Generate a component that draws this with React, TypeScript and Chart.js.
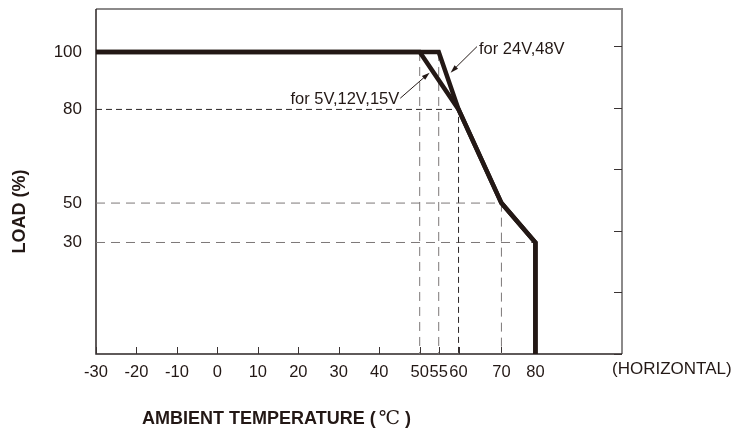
import { useEffect, useRef } from 'react';
import { Chart, registerables, LinearScale } from 'chart.js';

// ---- data ----
const X_TICKS = [-30, -20, -10, 0, 10, 20, 30, 40, 50, 55, 60, 70, 80];
const Y_TICKS = [30, 50, 80, 100];
const RIGHT_TICKS = [0, 20, 40, 60, 80, 100];

const LOW_V_TEMP = [-30, 50, 60, 70, 80, 80];
const LOW_V_LOAD = [100, 100, 80, 50, 30, 0];
const HIGH_V_TEMP = [-30, 55, 60, 70, 80, 80];
const HIGH_V_LOAD = [100, 100, 80, 50, 30, 0];

const LOW_V_LABEL = 'for 5V,12V,15V';
const HIGH_V_LABEL = 'for 24V,48V';
// annotation anchors in data units: [temp, load]
const LOW_V_ARROW_TAIL = [45.2, 83.9];
const LOW_V_ARROW_TIP = [52.6, 92.8];
const HIGH_V_ARROW_TAIL = [64.3, 101.5];
const HIGH_V_ARROW_TIP = [58.0, 92.8];

const X_TITLE = 'AMBIENT TEMPERATURE (';
const X_TITLE_UNIT = '℃';
const X_TITLE_END = ')';
const Y_TITLE = 'LOAD (%)';
const ORIENTATION = '(HORIZONTAL)';

// the original artwork's axes are slightly non-uniform: value -> nominal axis position
const X_WARP_FROM = [-30, 50, 55, 60, 70, 80, 100];
const X_WARP_TO = [-30, 50, 54.7, 59.6, 70.2, 78.6, 100];
const Y_WARP_FROM = [0, 30, 50, 80, 100, 112];
const Y_WARP_TO = [0, 36.2, 49.0, 79.4, 98.05, 112];

function interp(v: number, from: number[], to: number[]) {
  const n = from.length;
  if (v <= from[0]) return to[0] + (v - from[0]);
  if (v >= from[n - 1]) return to[n - 1] + (v - from[n - 1]);
  for (let i = 1; i < n; i++) {
    if (v <= from[i]) {
      const t = (v - from[i - 1]) / (from[i] - from[i - 1]);
      return to[i - 1] + t * (to[i] - to[i - 1]);
    }
  }
  return v;
}

class WarpScale extends (LinearScale as any) {
  static id = 'warp';
  static defaults = (LinearScale as any).defaults;
  maps() {
    return this.axis === 'x' ? [X_WARP_FROM, X_WARP_TO] : [Y_WARP_FROM, Y_WARP_TO];
  }
  getPixelForValue(value: any) {
    if (value === null || value === undefined) return NaN;
    const [f, t] = this.maps();
    return super.getPixelForValue(interp(value, f, t));
  }
  getValueForPixel(pixel: number) {
    const [f, t] = this.maps();
    return interp(super.getValueForPixel(pixel), t, f);
  }
}

Chart.register(...registerables, WarpScale as any);

const INK = '#231815';
const FONT = "'Liberation Sans', Arial, sans-serif";

const pts = (xs: number[], ys: number[]) => xs.map((x, i) => ({ x, y: ys[i] }));

function buildGuides() {
  const knees: { x: number; y: number }[] = [];
  [pts(LOW_V_TEMP, LOW_V_LOAD), pts(HIGH_V_TEMP, HIGH_V_LOAD)].forEach((line) => {
    line.slice(1, -1).forEach((p) => {
      if (!knees.some((k) => k.x === p.x && k.y === p.y)) knees.push(p);
    });
  });
  return knees.map((k) => {
    const dark = k.x === 60;
    const data = k.y < 100
      ? [{ x: X_TICKS[0], y: k.y }, { x: k.x, y: k.y }, { x: k.x, y: 0 }]
      : [{ x: k.x, y: k.y }, { x: k.x, y: 0 }];
    return {
      data,
      borderColor: dark ? '#2a2525' : '#7d7878',
      borderWidth: 1,
      borderDash: dark ? [6, 4] : [9, 6],
      pointRadius: 0,
      fill: false,
      tension: 0,
    };
  });
}

const noPad = (s: any) => {
  s.paddingTop = 0;
  s.paddingBottom = 0;
  s.paddingLeft = 0;
  s.paddingRight = 0;
};

const decor = {
  id: 'decor',
  beforeDatasetsDraw(chart: any) {
    const { ctx, chartArea: a, scales } = chart;
    ctx.save();
    ctx.strokeStyle = '#8c8a8a';
    ctx.lineWidth = 2;
    ctx.beginPath();
    ctx.moveTo(a.left, a.top);
    ctx.lineTo(a.right, a.top);
    ctx.lineTo(a.right, a.bottom);
    ctx.stroke();
    ctx.strokeStyle = '#2b2424';
    ctx.lineWidth = 1.5;
    ctx.beginPath();
    ctx.moveTo(a.left, a.top);
    ctx.lineTo(a.left, a.bottom);
    ctx.lineTo(a.right, a.bottom);
    ctx.stroke();
    // inward tick marks
    ctx.lineWidth = 1;
    ctx.strokeStyle = '#3a3333';
    ctx.beginPath();
    X_TICKS.forEach((v) => {
      const px = Math.round(scales.x.getPixelForValue(v)) + 0.5;
      ctx.moveTo(px, a.bottom);
      ctx.lineTo(px, a.bottom - 7);
    });
    RIGHT_TICKS.forEach((v) => {
      const py = Math.round(scales.y2.getPixelForValue(v)) + 0.5;
      ctx.moveTo(a.right, py);
      ctx.lineTo(a.right - 8, py);
    });
    ctx.stroke();
    ctx.restore();
  },
  afterDatasetsDraw(chart: any) {
    const { ctx, scales } = chart;
    const P = (p: number[]) => [scales.x.getPixelForValue(p[0]), scales.y.getPixelForValue(p[1])];
    const arrow = (tail: number[], tip: number[]) => {
      const [x0, y0] = P(tail);
      const [x1, y1] = P(tip);
      const ang = Math.atan2(y1 - y0, x1 - x0);
      ctx.save();
      ctx.strokeStyle = INK;
      ctx.fillStyle = INK;
      ctx.lineWidth = 1;
      ctx.beginPath();
      ctx.moveTo(x0, y0);
      ctx.lineTo(x1 - 6 * Math.cos(ang), y1 - 6 * Math.sin(ang));
      ctx.stroke();
      ctx.beginPath();
      ctx.moveTo(x1, y1);
      ctx.lineTo(x1 - 8 * Math.cos(ang) + 2.5 * Math.sin(ang), y1 - 8 * Math.sin(ang) - 2.5 * Math.cos(ang));
      ctx.lineTo(x1 - 8 * Math.cos(ang) - 2.5 * Math.sin(ang), y1 - 8 * Math.sin(ang) + 2.5 * Math.cos(ang));
      ctx.closePath();
      ctx.fill();
      ctx.restore();
      return [x0, y0];
    };
    const [hx, hy] = arrow(HIGH_V_ARROW_TAIL, HIGH_V_ARROW_TIP);
    const [lx, ly] = arrow(LOW_V_ARROW_TAIL, LOW_V_ARROW_TIP);
    ctx.save();
    ctx.fillStyle = INK;
    ctx.font = `16.5px ${FONT}`;
    ctx.textBaseline = 'middle';
    ctx.textAlign = 'left';
    ctx.fillText(HIGH_V_LABEL, hx + 2, hy + 3);
    ctx.textAlign = 'right';
    ctx.fillText(LOW_V_LABEL, lx - 1, ly + 1);
    ctx.restore();
  },
  afterDraw(chart: any) {
    const { ctx, chartArea: a } = chart;
    ctx.save();
    ctx.fillStyle = INK;
    // y title
    ctx.save();
    ctx.translate(a.left - 76, (a.top + a.bottom) / 2 + 30);
    ctx.rotate(-Math.PI / 2);
    ctx.font = `bold 18px ${FONT}`;
    ctx.textAlign = 'center';
    ctx.textBaseline = 'middle';
    ctx.fillText(Y_TITLE, 0, 0);
    ctx.restore();
    // x title
    ctx.textAlign = 'left';
    ctx.textBaseline = 'alphabetic';
    let x = a.left + 46;
    const y = a.bottom + 70;
    ctx.font = `bold 18px ${FONT}`;
    ctx.fillText(X_TITLE, x, y);
    x += ctx.measureText(X_TITLE).width + 3;
    ctx.font = `19px 'DejaVu Serif', serif`;
    ctx.fillText(X_TITLE_UNIT, x, y);
    x += ctx.measureText(X_TITLE_UNIT).width + 5;
    ctx.font = `bold 18px ${FONT}`;
    ctx.fillText(X_TITLE_END, x, y);
    // orientation note
    ctx.font = `17px ${FONT}`;
    ctx.fillText(ORIENTATION, a.right - 10, a.bottom + 19.5);
    ctx.restore();
  },
};

export default function App() {
  const ref = useRef<HTMLCanvasElement>(null);
  useEffect(() => {
    document.body.style.margin = '0';
    const canvas = ref.current;
    if (!canvas) return;
    const chart = new Chart(canvas, {
      type: 'line',
      data: {
        datasets: [
          {
            data: pts(LOW_V_TEMP, LOW_V_LOAD),
            borderColor: INK,
            borderWidth: 4.5,
            pointRadius: 0,
            borderJoinStyle: 'miter',
            borderCapStyle: 'butt',
            tension: 0,
          },
          {
            data: pts(HIGH_V_TEMP, HIGH_V_LOAD),
            borderColor: INK,
            borderWidth: 4.5,
            pointRadius: 0,
            borderJoinStyle: 'miter',
            borderCapStyle: 'butt',
            tension: 0,
          },
          ...buildGuides(),
        ] as any,
      },
      options: {
        responsive: false,
        animation: false,
        devicePixelRatio: 1,
        events: [],
        layout: { padding: { top: 9, right: 114, left: 0, bottom: 0 } },
        plugins: { legend: { display: false }, tooltip: { enabled: false }, title: { display: false } },
        scales: {
          x: {
            type: 'warp' as any,
            min: -30,
            max: 100,
            grid: { display: false, drawTicks: false },
            border: { display: false },
            afterBuildTicks: (s: any) => { s.ticks = X_TICKS.map((v) => ({ value: v })); },
            afterFit: (s: any) => { s.height = 78; noPad(s); },
            ticks: {
              autoSkip: false,
              maxRotation: 0,
              padding: 8.5,
              color: INK,
              font: { family: FONT, size: 16.5 },
              callback: (v: any) => String(v),
            },
          },
          y: {
            type: 'warp' as any,
            min: 0,
            max: 112,
            grid: { display: false, drawTicks: false },
            border: { display: false },
            afterBuildTicks: (s: any) => { s.ticks = Y_TICKS.map((v) => ({ value: v })); },
            afterFit: (s: any) => { s.width = 96; noPad(s); },
            ticks: {
              padding: 14,
              color: INK,
              font: { family: FONT, size: 17 },
              callback: (v: any) => String(v),
            },
          },
          y2: {
            type: 'linear',
            position: 'right',
            min: 0,
            max: 112,
            grid: { display: false, drawTicks: false },
            border: { display: false },
            ticks: { display: false },
            afterFit: (s: any) => { s.width = 0; noPad(s); },
          },
        },
      } as any,
      plugins: [decor],
    });
    return () => chart.destroy();
  }, []);
  return (
    <div style={{ width: 736, height: 432 }}>
      <canvas ref={ref} width={736} height={432} />
    </div>
  );
}
